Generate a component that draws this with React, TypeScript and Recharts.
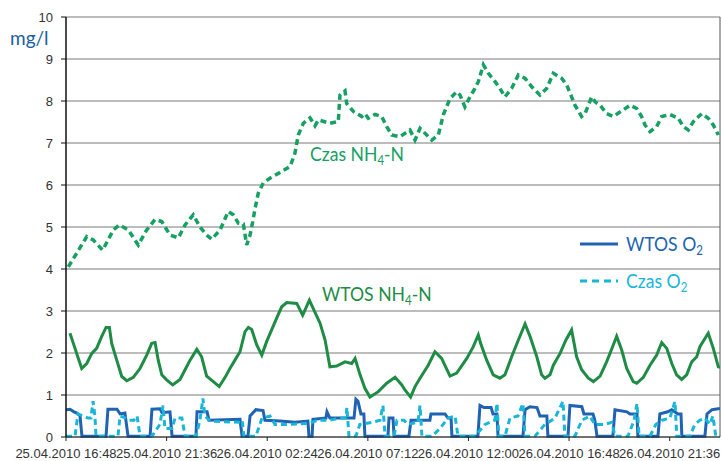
import { CartesianGrid, Customized, Line, LineChart, ReferenceLine, XAxis, YAxis } from 'recharts';

// hours from 25.04.2010 16:48
const xTicks = [0, 4.8, 9.6, 14.4, 19.2, 24, 28.8];
const xTickLabels = [
	'25.04.2010 16:48',
	'25.04.2010 21:36',
	'26.04.2010 02:24',
	'26.04.2010 07:12',
	'26.04.2010 12:00',
	'26.04.2010 16:48',
	'26.04.2010 21:36',
];
const yTicks = [0, 1, 2, 3, 4, 5, 6, 7, 8, 9, 10];

// [hours, mg/l]
const czasNH4: number[][] = [
	[0.11, 4.05], [0.99, 4.77], [1.3, 4.69], [1.75, 4.45], [2.26, 4.93], [2.54, 5.05], [2.97, 4.93],
	[3.45, 4.57], [3.85, 4.93], [4.25, 5.18], [4.57, 5.13], [4.96, 4.81], [5.36, 4.74], [5.68, 5.05],
	[6.07, 5.29], [6.39, 5.0], [6.71, 4.81], [6.95, 4.71], [7.35, 4.93], [7.74, 5.37], [7.98, 5.29],
	[8.22, 5.09], [8.46, 5.07], [8.62, 4.57], [8.78, 4.81], [8.91, 5.13], [9.02, 5.44], [9.17, 5.8],
	[9.41, 6.05], [9.73, 6.16], [10.21, 6.3], [10.69, 6.44], [10.92, 6.75], [11.08, 7.19], [11.32, 7.47],
	[11.64, 7.6], [11.88, 7.41], [12.04, 7.55], [12.59, 7.47], [12.99, 7.51], [13.07, 8.14], [13.31, 8.24],
	[13.39, 7.94], [13.71, 7.75], [14.11, 7.63], [14.26, 7.7], [14.42, 7.59], [14.74, 7.68], [15.06, 7.63],
	[15.3, 7.39], [15.54, 7.19], [15.93, 7.15], [16.41, 7.31], [16.65, 7.07], [16.89, 7.35], [17.21, 7.19],
	[17.45, 7.07], [17.76, 7.19], [18.0, 7.67], [18.32, 8.06], [18.64, 8.22], [18.8, 8.14], [19.03, 7.86],
	[19.27, 8.1], [19.51, 8.3], [19.67, 8.46], [19.91, 8.86], [20.15, 8.66], [20.47, 8.46], [20.7, 8.3],
	[20.94, 8.1], [21.26, 8.3], [21.58, 8.62], [21.9, 8.54], [22.22, 8.34], [22.61, 8.14], [22.93, 8.3],
	[23.25, 8.66], [23.65, 8.54], [23.89, 8.38], [24.12, 8.1], [24.28, 7.9], [24.6, 7.63], [24.76, 7.7],
	[24.92, 7.9], [25.08, 8.1], [25.24, 7.98], [25.48, 7.9], [25.79, 7.7], [26.11, 7.63], [26.59, 7.79],
	[26.91, 7.9], [27.23, 7.82], [27.46, 7.63], [27.62, 7.43], [27.86, 7.27], [28.18, 7.39], [28.42, 7.63],
	[28.81, 7.68], [29.21, 7.59], [29.45, 7.39], [29.69, 7.31], [29.93, 7.51], [30.33, 7.7], [30.64, 7.59],
	[30.88, 7.43], [31.12, 7.19],
];

const wtosNH4: number[][] = [
	[0.19, 2.47], [0.43, 2.11], [0.59, 1.87], [0.75, 1.63], [0.99, 1.75], [1.23, 1.99], [1.46, 2.11],
	[1.7, 2.39], [1.91, 2.61], [2.07, 2.61], [2.18, 2.23], [2.42, 1.83], [2.66, 1.44], [2.9, 1.34],
	[3.21, 1.42], [3.53, 1.63], [3.85, 1.95], [4.09, 2.23], [4.25, 2.25], [4.4, 1.83], [4.57, 1.48],
	[4.8, 1.36], [5.09, 1.24], [5.44, 1.37], [5.68, 1.6], [5.92, 1.83], [6.24, 2.09], [6.47, 1.91],
	[6.71, 1.45], [7.03, 1.32], [7.31, 1.2], [7.59, 1.42], [7.82, 1.63], [8.06, 1.83], [8.3, 2.03],
	[8.54, 2.51], [8.7, 2.61], [8.86, 2.56], [9.1, 2.19], [9.34, 1.95], [9.57, 2.27], [9.81, 2.55],
	[10.05, 2.83], [10.29, 3.1], [10.53, 3.2], [11.01, 3.18], [11.29, 2.9], [11.4, 3.02], [11.61, 3.26],
	[11.83, 3.02], [12.12, 2.71], [12.36, 2.31], [12.59, 1.67], [12.91, 1.69], [13.31, 1.79], [13.63, 1.75],
	[13.79, 1.87], [14.03, 1.48], [14.26, 1.16], [14.5, 0.95], [14.9, 1.08], [15.3, 1.28], [15.7, 1.42],
	[16.02, 1.24], [16.17, 1.12], [16.44, 0.95], [16.65, 1.2], [16.89, 1.4], [17.28, 1.71], [17.6, 2.03],
	[17.92, 1.87], [18.32, 1.45], [18.64, 1.52], [19.12, 1.87], [19.43, 2.15], [19.67, 2.43], [19.78, 2.23],
	[20.07, 1.83], [20.38, 1.48], [20.7, 1.4], [20.94, 1.48], [21.26, 1.91], [21.58, 2.31], [21.9, 2.69],
	[22.14, 2.39], [22.46, 1.91], [22.69, 1.48], [22.85, 1.4], [23.09, 1.48], [23.25, 1.71], [23.57, 1.99],
	[23.85, 2.31], [24.12, 2.55], [24.36, 1.91], [24.6, 1.6], [24.92, 1.4], [25.16, 1.32], [25.48, 1.45],
	[25.79, 1.79], [26.03, 2.09], [26.27, 2.4], [26.51, 2.07], [26.75, 1.63], [27.06, 1.32], [27.23, 1.28],
	[27.54, 1.42], [27.86, 1.71], [28.18, 1.95], [28.42, 2.25], [28.66, 2.11], [28.9, 1.75], [29.13, 1.48],
	[29.37, 1.37], [29.61, 1.48], [29.85, 1.79], [30.09, 1.91], [30.24, 2.15], [30.64, 2.47], [30.88, 2.11],
	[31.12, 1.67], [31.2, 1.66],
];

const wtosO2: number[][] = [
	[0, 0.65], [0.19, 0.66], [0.38, 0.6], [0.52, 0.57], [0.67, 0.5], [0.76, 0.02], [1.91, 0.02], [2.0, 0.66],
	[2.43, 0.66], [2.58, 0.55], [2.81, 0.57], [2.96, 0.02], [4.01, 0.02], [4.1, 0.66], [4.48, 0.67],
	[4.58, 0.58], [4.96, 0.6], [5.06, 0.02], [6.2, 0.02], [6.25, 0.6], [6.73, 0.6], [6.82, 0.4], [8.3, 0.42],
	[8.4, 0.02], [8.68, 0.02], [8.78, 0.5], [9.06, 0.65], [9.4, 0.63], [9.49, 0.4], [10.21, 0.38],
	[10.92, 0.35], [11.54, 0.38], [11.59, 0.02], [11.74, 0.02], [11.78, 0.42], [12.4, 0.45], [12.45, 0.6],
	[12.59, 0.45], [13.74, 0.45], [13.83, 0.9], [13.93, 0.85], [14.07, 0.55], [14.21, 0.55], [14.26, 0.02],
	[15.36, 0.02], [15.41, 0.45], [15.6, 0.45], [15.65, 0.02], [16.36, 0.02], [16.46, 0.4], [17.36, 0.4],
	[17.41, 0.55], [18.08, 0.55], [18.22, 0.45], [18.37, 0.45], [18.41, 0.02], [19.65, 0.02], [19.75, 0.75],
	[19.94, 0.7], [20.28, 0.7], [20.37, 0.55], [20.56, 0.55], [20.61, 0.02], [21.8, 0.02], [21.9, 0.65],
	[22.13, 0.72], [22.47, 0.7], [22.61, 0.5], [22.94, 0.5], [22.99, 0.02], [23.95, 0.02], [24.04, 0.75],
	[24.61, 0.72], [24.71, 0.55], [25.14, 0.55], [25.23, 0.4], [25.33, 0.02], [26.09, 0.02], [26.19, 0.65],
	[26.76, 0.6], [26.9, 0.55], [27.24, 0.55], [27.28, 0.02], [28.24, 0.02], [28.33, 0.55], [28.71, 0.6],
	[28.9, 0.65], [29.19, 0.55], [29.34, 0.55], [29.38, 0.02], [30.48, 0.02], [30.58, 0.55], [30.82, 0.65],
	[31.2, 0.68],
];

const czasO2: number[][] = [
	[0, 0.02], [0.43, 0.02], [0.57, 0.55], [0.81, 0.5], [1.05, 0.45], [1.19, 0.45], [1.29, 0.85], [1.38, 0.5],
	[1.43, 0.02], [2.0, 0.02], [2.48, 0.02], [2.58, 0.5], [2.86, 0.45], [3.01, 0.4], [3.24, 0.4], [3.39, 0.5],
	[3.53, 0.02], [4.1, 0.02], [4.48, 0.3], [4.63, 0.75], [4.72, 0.2], [5.06, 0.2], [5.2, 0.45], [5.53, 0.45],
	[5.68, 0.02], [6.2, 0.02], [6.39, 0.4], [6.53, 0.92], [6.63, 0.5], [6.87, 0.38], [8.3, 0.35], [8.4, 0.4],
	[8.49, 0.02], [9.06, 0.02], [9.35, 0.45], [9.73, 0.5], [9.97, 0.3], [10.68, 0.3], [11.4, 0.32],
	[11.73, 0.35], [12.02, 0.4], [12.59, 0.4], [13.07, 0.45], [13.36, 0.45], [13.4, 0.7], [13.5, 0.02],
	[13.83, 0.02], [14.02, 0.3], [14.6, 0.35], [14.98, 0.4], [15.12, 0.75], [15.22, 0.02], [15.65, 0.02],
	[15.79, 0.4], [16.12, 0.4], [16.31, 0.3], [16.79, 0.35], [16.89, 0.75], [16.98, 0.02], [17.46, 0.02],
	[17.84, 0.2], [18.22, 0.45], [18.56, 0.5], [18.7, 0.02], [19.51, 0.02], [19.99, 0.3], [20.46, 0.4],
	[20.56, 0.8], [20.65, 0.02], [20.94, 0.02], [21.18, 0.45], [21.56, 0.5], [21.8, 0.8], [21.9, 0.02],
	[22.37, 0.02], [22.85, 0.3], [23.33, 0.45], [23.71, 0.85], [23.8, 0.02], [24.28, 0.02], [24.61, 0.4],
	[24.99, 0.5], [25.23, 0.3], [25.71, 0.3], [26.04, 0.35], [26.19, 0.02], [26.81, 0.02], [27.1, 0.4],
	[27.24, 0.8], [27.34, 0.02], [27.86, 0.02], [28.14, 0.3], [28.43, 0.4], [28.81, 0.45], [29.05, 0.85],
	[29.14, 0.02], [29.76, 0.02], [30.0, 0.3], [30.24, 0.4], [30.48, 0.45], [30.72, 0.3], [30.86, 0.5],
	[31.0, 0.02], [31.2, 0.02],
];

const toRows = (pts: number[][]) => pts.map(([t, v]) => ({ t, v }));

const GREEN_DASH = '#16a062';
const GREEN = '#1e8c44';
const BLUE = '#2063b3';
const CYAN = '#18b6d8';
const LABEL_FONT = "Lato, 'Liberation Sans', Arial, sans-serif";
const TICK_FONT = "'Liberation Sans', Arial, sans-serif";

// the original uses a condensed face, so squeeze Lato a little
const NarrowText = ({ x, y, fill, main, sub, rest }: { x: number; y: number; fill: string; main: string; sub: string; rest?: string }) => (
	<text transform={`translate(${x},${y}) scale(0.88,1)`} fontSize={20} fill={fill}>
		{main}
		<tspan fontSize={13} dy={4}>{sub}</tspan>
		{rest ? <tspan dy={-4}>{rest}</tspan> : null}
	</text>
);

const Annotations = () => (
	<g fontFamily={LABEL_FONT}>
		<text x={10} y={45} fontSize={19} fill='#1a5ea6'>
			mg/l
		</text>
		<NarrowText x={310} y={161} fill={GREEN_DASH} main='Czas NH' sub='4' rest='-N' />
		<NarrowText x={322} y={301} fill={GREEN} main='WTOS NH' sub='4' rest='-N' />
		<line x1={580} x2={618} y1={244} y2={244} stroke={BLUE} strokeWidth={3} />
		<NarrowText x={626} y={251} fill={BLUE} main='WTOS O' sub='2' />
		<line x1={580} x2={618} y1={281} y2={281} stroke={CYAN} strokeWidth={3} strokeDasharray='7 5' />
		<NarrowText x={626} y={288} fill={CYAN} main='Czas O' sub='2' />
	</g>
);

export default function App() {
	return (
		<div style={{ position: 'absolute', left: 0, top: 0, background: '#fff' }}>
			<LineChart width={722} height={461} margin={{ top: 17, right: 2, left: 0, bottom: 0 }}>
				<CartesianGrid vertical={false} stroke='#7a7a7a' strokeWidth={1} />
				<XAxis
					dataKey='t'
					type='number'
					domain={[0, 31.2]}
					ticks={xTicks}
					interval={0}
					height={24}
					tickSize={4}
					tickMargin={8}
					tickFormatter={(v: number) => xTickLabels[xTicks.indexOf(v)] ?? ''}
					tick={{ fill: '#333', fontSize: 13, fontFamily: TICK_FONT }}
					axisLine={{ stroke: '#222' }}
					tickLine={{ stroke: '#222' }}
					allowDataOverflow
				/>
				<YAxis
					type='number'
					domain={[0, 10]}
					ticks={yTicks}
					width={66}
					tickSize={5}
					tickMargin={8}
					tick={{ fill: '#333', fontSize: 13, fontFamily: TICK_FONT }}
					axisLine={{ stroke: '#111', strokeWidth: 1.5 }}
					tickLine={{ stroke: '#111' }}
				/>
				<ReferenceLine x={31.2} stroke='#555' />
				<Line data={toRows(wtosO2)} dataKey='v' stroke={BLUE} strokeWidth={3} dot={false} isAnimationActive={false} />
				<Line
					data={toRows(czasO2)}
					dataKey='v'
					stroke={CYAN}
					strokeWidth={3}
					strokeDasharray='6 4'
					dot={false}
					isAnimationActive={false}
				/>
				<Line data={toRows(wtosNH4)} dataKey='v' stroke={GREEN} strokeWidth={3} dot={false} isAnimationActive={false} />
				<Line
					data={toRows(czasNH4)}
					dataKey='v'
					stroke={GREEN_DASH}
					strokeWidth={3.5}
					strokeDasharray='6 4'
					dot={false}
					isAnimationActive={false}
				/>
				<Customized component={Annotations} />
			</LineChart>
		</div>
	);
}
